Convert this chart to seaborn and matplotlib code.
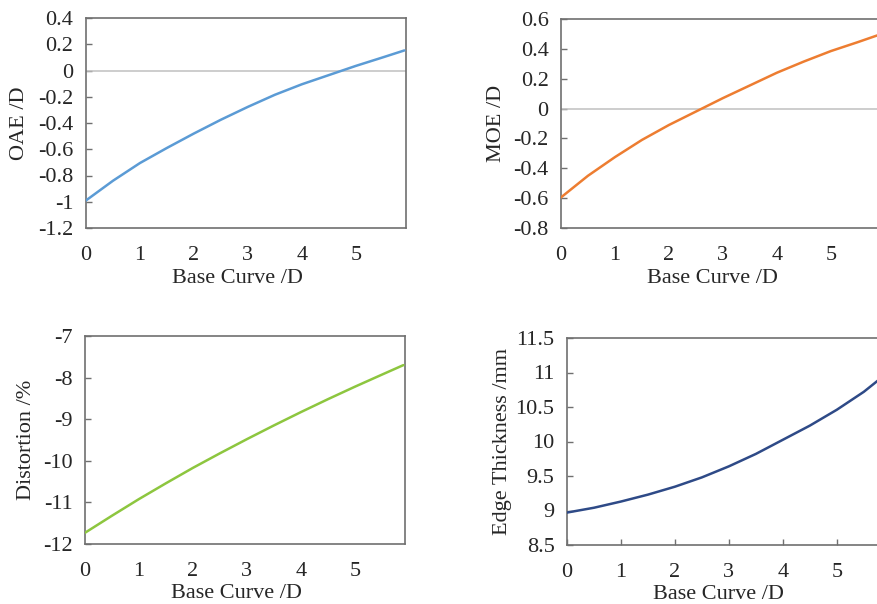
import seaborn as sns
import matplotlib.pyplot as plt
import pandas as pd

# base curve values (D) shared by all panels
base_curve = [0, 0.5, 1, 1.5, 2, 2.5, 3, 3.5, 4, 4.5, 5, 5.5, 5.9]

oae = [-0.99, -0.84, -0.705, -0.59, -0.48, -0.375, -0.277, -0.185, -0.105, -0.035, 0.035, 0.10, 0.153]
moe = [-0.595, -0.45, -0.325, -0.21, -0.11, -0.02, 0.07, 0.155, 0.24, 0.315, 0.385, 0.445, 0.495]
distortion = [-11.73, -11.32, -10.92, -10.54, -10.17, -9.82, -9.48, -9.15, -8.83, -8.52, -8.22, -7.93, -7.70]
edge_thickness = [8.97, 9.04, 9.13, 9.23, 9.345, 9.48, 9.64, 9.82, 10.025, 10.23, 10.46, 10.72, 10.97]

x_ticks = [0, 1, 2, 3, 4, 5]
oae_ticks = [0.4, 0.2, 0, -0.2, -0.4, -0.6, -0.8, -1, -1.2]
moe_ticks = [0.6, 0.4, 0.2, 0, -0.2, -0.4, -0.6, -0.8]
dist_ticks = [-7, -8, -9, -10, -11, -12]
edge_ticks = [11.5, 11, 10.5, 10, 9.5, 9, 8.5]

sns.set_style("white")
plt.rcParams['font.family'] = ['Liberation Serif', 'DejaVu Serif']

fig = plt.figure(figsize=(8.77, 6.04), dpi=100)
W, H = 877, 604

def box(left, top, bottom, width=320):
    return [left / W, 1 - bottom / H, width / W, (bottom - top) / H]

panels = [
    # (axes box, values, ylabel, ticks, color, zero line, label x)
    (box(86, 18, 228), oae, 'OAE /D', oae_ticks, '#5b9bd5', True, -0.208),
    (box(561, 19, 228), moe, 'MOE /D', moe_ticks, '#ed7d31', True, -0.203),
    (box(85, 336, 544), distortion, 'Distortion /%', dist_ticks, '#8dc63f', False, -0.183),
    (box(567, 338, 545), edge_thickness, 'Edge Thickness /mm', edge_ticks, '#2e4a87', False, -0.203),
]

fs = 16
for i, (rect, vals, ylab, yt, col, zero, lx) in enumerate(panels):
    ax = fig.add_axes(rect)
    df = pd.DataFrame({'x': base_curve, 'y': vals})
    if zero:
        ax.axhline(0, color='#c0c0c0', lw=1.1, zorder=1)
    sns.lineplot(data=df, x='x', y='y', color=col, lw=1.8, ax=ax, zorder=3)
    ax.set_xlim(0, 5.93)
    ax.set_ylim(min(yt), max(yt))
    ax.set_yticks(yt)
    ax.set_yticklabels([f'{t:g}' for t in yt])
    ax.set_xticks(x_ticks)
    ax.set_xticklabels([str(t) for t in x_ticks])
    ax.tick_params(axis='y', direction='in', length=4.5, width=1, color='#707070',
                   left=True, pad=9, labelsize=fs)
    if i == 3:
        ax.tick_params(axis='x', direction='in', length=4.5, width=1, color='#707070',
                       pad=13, labelsize=fs, bottom=True)
    else:
        ax.tick_params(axis='x', length=0, pad=13, labelsize=fs)
    for s in ax.spines.values():
        s.set_color('#707070')
        s.set_linewidth(1.2)
    ax.set_xlabel('Base Curve /D', fontsize=fs, va='center')
    ax.set_ylabel(ylab, fontsize=fs, va='center')
    ax.xaxis.set_label_coords(0.472, -0.24)
    ax.yaxis.set_label_coords(lx, 0.5)

fig.savefig('out.png', dpi=100)
